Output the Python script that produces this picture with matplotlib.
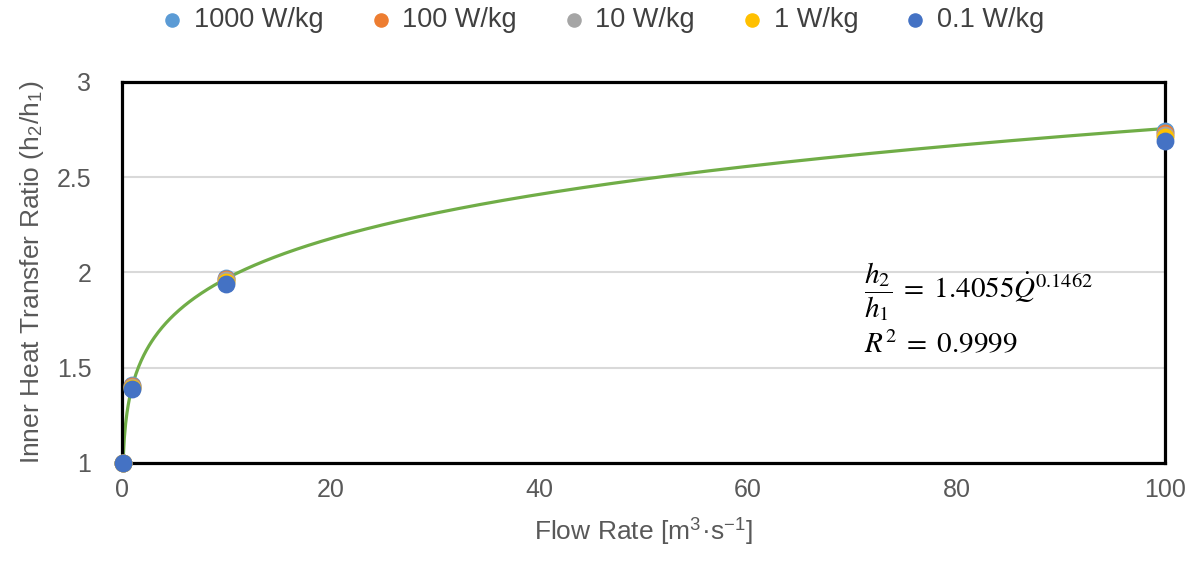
import numpy as np
import matplotlib
matplotlib.use('Agg')
import matplotlib.pyplot as plt

plt.rcParams['font.family'] = ['Liberation Sans', 'DejaVu Sans']
plt.rcParams['mathtext.fontset'] = 'stix'

# flow rates and ratio h2/h1 for each heat load
flow = [0.1, 1, 10, 100]
labels = ['1000 W/kg', '100 W/kg', '10 W/kg', '1 W/kg', '0.1 W/kg']
colors = ['#5B9BD5', '#ED7D31', '#A5A5A5', '#FFC000', '#4472C4']
ratio_1000 = [1.0, 1.41, 1.97, 2.745]
ratio_100 = [1.0, 1.405, 1.965, 2.73]
ratio_10 = [1.0, 1.40, 1.96, 2.72]
ratio_1 = [1.0, 1.395, 1.95, 2.71]
ratio_01 = [1.0, 1.39, 1.94, 2.69]
series = [ratio_1000, ratio_100, ratio_10, ratio_1, ratio_01]

# power-law trendline
coef = 1.4055
expo = 0.1462

fig = plt.figure(figsize=(11.98, 5.69), dpi=100)
ax = fig.add_axes([0.1018, 0.1863, 0.8707, 0.6696])

q = np.linspace(0.1, 100, 800)
ax.plot(q, coef * q ** expo, color='#70AD47', lw=2.3, zorder=2)

for lab, col, vals in zip(labels, colors, series):
    ax.scatter(flow, vals, s=140, color=col, label=lab, zorder=3, clip_on=False)

ax.set_xlim(0, 100)
ax.set_ylim(1, 3)
ax.set_xticks(range(0, 101, 20))
ax.set_yticks([1, 1.5, 2, 2.5, 3])
ax.set_yticklabels(['1', '1.5', '2', '2.5', '3'])
ax.grid(axis='y', color='#D9D9D9', lw=1.5, zorder=0)
ax.tick_params(length=0, labelsize=18, labelcolor='#595959')
ax.tick_params(axis='x', pad=11)
ax.tick_params(axis='y', pad=22)
for s in ax.spines.values():
    s.set_color('black')
    s.set_linewidth(2.3)

ax.set_xlabel('Flow Rate [m$^{\\mathregular{3}}$·s$^{\\mathregular{-1}}$]', fontsize=19,
              color='#595959', labelpad=9)
ax.set_ylabel('Inner Heat Transfer Ratio (h$_{\\mathregular{2}}$/h$_{\\mathregular{1}}$)',
              fontsize=19, color='#595959', labelpad=8)

ax.text(71.1, 1.9, r'$\dfrac{h_2}{h_1}\;=\;1.4055\dot{Q}^{0.1462}$', fontsize=21,
        va='center', ha='left')
ax.text(71.1, 1.616, r'$R^2\;=\;0.9999$', fontsize=21, va='center', ha='left')

fig.legend(loc='upper center', bbox_to_anchor=(0.502, 1.03), ncol=5, frameon=False,
           fontsize=19.5, markerscale=0.8, handlelength=1.0, handletextpad=0.3,
           columnspacing=1.6, labelcolor='#404040')

fig.savefig('out.png', dpi=100)
